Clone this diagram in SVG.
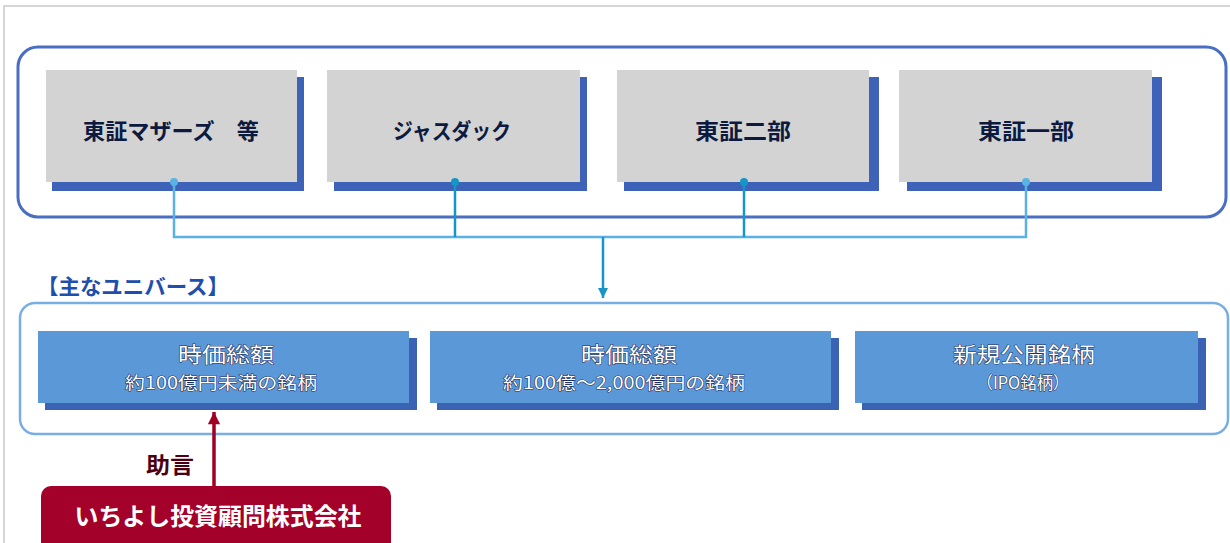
<svg xmlns="http://www.w3.org/2000/svg" width="1230" height="543" viewBox="0 0 1230 543">
<style>
  .frame { fill: none; stroke: #c9c9c9; stroke-width: 1.5; }
  .outer1 { fill: #fff; stroke: #4a6fc2; stroke-width: 3; }
  .outer2 { fill: #fff; stroke: #78aee2; stroke-width: 2.5; }
  .gshadow { fill: #3e62b8; }
  .gbox { fill: #d3d3d3; }
  .bshadow { fill: #3a63b3; }
  .bbox { fill: #5b98d8; }
  .ttop { font-family: "Noto Sans CJK JP", "Noto Sans", sans-serif; font-weight: bold; font-size: 22px; fill: #0d1a40; text-anchor: middle; }
  .tb1 { font-family: "Noto Sans CJK JP", "Noto Sans", sans-serif; font-size: 21px; fill: #fff; stroke: #1c2a5c; stroke-width: 1; paint-order: stroke; text-anchor: middle; }
  .tb2 { font-family: "Noto Sans CJK JP", "Noto Sans", sans-serif; font-size: 17px; fill: #fff; stroke: #1c2a5c; stroke-width: 1; paint-order: stroke; text-anchor: middle; }
  .title { font-family: "Noto Sans CJK JP", "Noto Sans", sans-serif; font-weight: bold; font-size: 21px; fill: #1f4fae; }
  .lite { fill: none; stroke: #5ab2e4; stroke-width: 2.5; }
  .dark { fill: none; stroke: #1496c8; stroke-width: 2.5; }
  .red { fill: none; stroke: #a00025; stroke-width: 3.5; }
</style>
<defs>
  <marker id="arrBlue" viewBox="0 0 10 10" refX="10" refY="5" markerWidth="4" markerHeight="4" orient="auto" markerUnits="strokeWidth">
    <path d="M0,0 L10,5 L0,10 z" fill="#1496c8"/>
  </marker>
  <marker id="arrRed" viewBox="0 0 10 10" refX="10" refY="5" markerWidth="4" markerHeight="3.5" orient="auto" markerUnits="strokeWidth">
    <path d="M0,0 L10,5 L0,10 z" fill="#a00025"/>
  </marker>
</defs>

<rect width="1230" height="543" fill="#fff"/>
<path class="frame" d="M4,543 V6 H1230"/>

<!-- top container -->
<g id="markets">
  <rect class="outer1" x="18" y="47" width="1208" height="170" rx="20"/>
</g>

<g id="mothers">
  <rect class="gshadow" x="52" y="77" width="252" height="114"/>
  <rect class="gbox" x="46" y="70" width="251" height="112"/>
  <text class="ttop" x="171" y="139" textLength="176" lengthAdjust="spacingAndGlyphs">東証マザーズ　等</text>
</g>
<g id="jasdaq">
  <rect class="gshadow" x="334" y="77" width="253" height="114"/>
  <rect class="gbox" x="327" y="70" width="253" height="112"/>
  <text class="ttop" x="452" y="139" textLength="118" lengthAdjust="spacingAndGlyphs">ジャスダック</text>
</g>
<g id="tse2">
  <rect class="gshadow" x="624" y="77" width="255" height="114"/>
  <rect class="gbox" x="617" y="70" width="252" height="112"/>
  <text class="ttop" x="743" y="139" textLength="96" lengthAdjust="spacingAndGlyphs">東証二部</text>
</g>
<g id="tse1">
  <rect class="gshadow" x="907" y="77" width="255" height="114"/>
  <rect class="gbox" x="899" y="70" width="253" height="112"/>
  <text class="ttop" x="1026" y="139" textLength="96" lengthAdjust="spacingAndGlyphs">東証一部</text>
</g>

<!-- universe -->
<text class="title" x="37" y="294" textLength="192" lengthAdjust="spacingAndGlyphs">【主なユニバース】</text>
<g id="universe">
  <rect class="outer2" x="20" y="303" width="1208" height="131" rx="15"/>
</g>
<g id="small-cap">
  <rect class="bshadow" x="45" y="338" width="372" height="72"/>
  <rect class="bbox" x="38" y="331" width="371" height="72"/>
  <text class="tb1" x="226" y="362" textLength="96" lengthAdjust="spacingAndGlyphs">時価総額</text>
  <text class="tb2" x="221" y="389" textLength="192" lengthAdjust="spacingAndGlyphs">約100億円未満の銘柄</text>
</g>
<g id="mid-cap">
  <rect class="bshadow" x="437" y="338" width="402" height="72"/>
  <rect class="bbox" x="430" y="331" width="401" height="72"/>
  <text class="tb1" x="629" y="362" textLength="96" lengthAdjust="spacingAndGlyphs">時価総額</text>
  <text class="tb2" x="624" y="389" textLength="242" lengthAdjust="spacingAndGlyphs">約100億～2,000億円の銘柄</text>
</g>
<g id="ipo">
  <rect class="bshadow" x="862" y="338" width="344" height="72"/>
  <rect class="bbox" x="855" y="331" width="343" height="72"/>
  <text class="tb1" x="1024" y="362" textLength="142" lengthAdjust="spacingAndGlyphs">新規公開銘柄</text>
  <text class="tb2" x="1023" y="389" textLength="93" lengthAdjust="spacingAndGlyphs">（IPO銘柄）</text>
</g>

<!-- advisor -->
<g id="advisor">
  <rect x="41" y="486" width="350" height="70" rx="10" fill="#a3002a"/>
  <text x="218" y="525" text-anchor="middle" textLength="287" lengthAdjust="spacingAndGlyphs" font-family="Noto Sans CJK JP, Noto Sans, sans-serif" font-weight="bold" font-size="24" fill="#fff">いちよし投資顧問株式会社</text>
</g>

<!-- connectors -->
<g id="connectors">
  <path class="lite" d="M174,182 V237 H1026 V182"/>
  <path class="dark" d="M455,182 V237"/>
  <path class="dark" d="M744,182 V237"/>
  <path class="dark" d="M603,237 V298" marker-end="url(#arrBlue)"/>
  <circle cx="174" cy="182" r="4" fill="#5ab2e4"/>
  <circle cx="455" cy="182" r="4" fill="#1496c8"/>
  <circle cx="744" cy="182" r="4" fill="#1496c8"/>
  <circle cx="1026" cy="182" r="4" fill="#5ab2e4"/>
  <path class="red" d="M214,487 V412" marker-end="url(#arrRed)"/>
  <text x="170" y="473" text-anchor="middle" textLength="48" lengthAdjust="spacingAndGlyphs" font-family="Noto Sans CJK JP, Noto Sans, sans-serif" font-weight="bold" font-size="22" fill="#4a0010">助言</text>
</g>
</svg>
